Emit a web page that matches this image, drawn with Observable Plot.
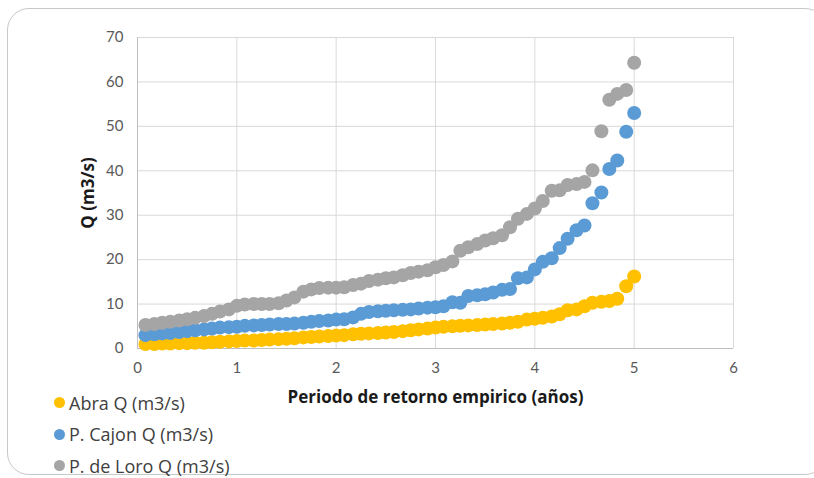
<!DOCTYPE html>
<html>
<head>
<meta charset="utf-8">
<script src="https://cdn.jsdelivr.net/npm/d3@7"></script>
<script src="https://cdn.jsdelivr.net/npm/@observablehq/plot@0.6"></script>
<style>
  html, body { margin: 0; padding: 0; background: #fff; }
  #chart { position: relative; width: 814px; height: 478px; overflow: hidden; font-family: "Open Sans", Lato, sans-serif; }
  #frame { position: absolute; left: 7px; top: 8px; width: 820px; height: 467px; border: 1.5px solid #c8c8c8; border-radius: 22px; box-sizing: border-box; }
  #plot { position: absolute; left: 0; top: 0; }
  #legend { position: absolute; left: 54px; top: 387px; font-size: 18px; color: #404040; }
  #legend .item { display: flex; align-items: center; height: 31.5px; }
  #legend .sw { width: 11px; height: 11px; border-radius: 50%; margin-right: 4px; }
</style>
</head>
<body>
<div id="chart">
  <div id="frame"></div>
  <div id="plot"></div>
  <div id="legend"></div>
</div>
<script>
// Empirical return period (years) of each ranked flow
const periods = [
  0.08, 0.17, 0.25, 0.33, 0.42, 0.50, 0.58, 0.67, 0.75, 0.83,
  0.92, 1.00, 1.08, 1.17, 1.25, 1.33, 1.42, 1.50, 1.58, 1.67,
  1.75, 1.83, 1.92, 2.00, 2.08, 2.17, 2.25, 2.33, 2.42, 2.50,
  2.58, 2.67, 2.75, 2.83, 2.92, 3.00, 3.08, 3.17, 3.25, 3.33,
  3.42, 3.50, 3.58, 3.67, 3.75, 3.83, 3.92, 4.00, 4.08, 4.17,
  4.25, 4.33, 4.42, 4.50, 4.58, 4.67, 4.75, 4.83, 4.92, 5.00
];

// Flows Q (m3/s) per station
const abra = [
  1.0, 1.0, 1.1, 1.1, 1.2, 1.2, 1.3, 1.3, 1.4, 1.5,
  1.6, 1.7, 1.8, 1.8, 1.9, 2.0, 2.1, 2.2, 2.3, 2.5,
  2.6, 2.7, 2.8, 2.9, 3.0, 3.2, 3.3, 3.4, 3.5, 3.6,
  3.7, 3.9, 4.1, 4.3, 4.5, 4.7, 4.9, 5.0, 5.1, 5.2,
  5.3, 5.4, 5.5, 5.6, 5.8, 6.0, 6.5, 6.7, 6.9, 7.2,
  7.7, 8.6, 8.8, 9.5, 10.3, 10.5, 10.7, 11.2, 14.0, 16.2
];
const cajon = [
  3.0, 3.2, 3.4, 3.5, 3.7, 3.9, 4.1, 4.3, 4.5, 4.7,
  4.8, 4.9, 5.1, 5.2, 5.3, 5.4, 5.5, 5.5, 5.6, 5.8,
  6.0, 6.2, 6.3, 6.5, 6.6, 7.0, 7.8, 8.2, 8.4, 8.5,
  8.6, 8.7, 8.8, 9.0, 9.2, 9.3, 9.5, 10.4, 10.3, 11.8,
  12.0, 12.2, 12.6, 13.2, 13.4, 15.8, 16.0, 17.8, 19.5, 20.3,
  22.6, 24.7, 26.6, 27.7, 32.7, 35.1, 40.4, 42.3, 48.8, 53.0
];
const loro = [
  5.3, 5.5, 5.8, 6.0, 6.3, 6.6, 6.9, 7.3, 7.8, 8.3,
  8.8, 9.6, 9.9, 10.0, 10.0, 10.0, 10.2, 10.8, 11.5, 12.8,
  13.3, 13.6, 13.7, 13.7, 13.8, 14.3, 14.6, 15.2, 15.5, 15.8,
  16.0, 16.5, 17.0, 17.3, 17.6, 18.3, 18.8, 19.6, 22.0, 22.8,
  23.5, 24.3, 24.8, 25.5, 27.3, 29.2, 30.3, 31.5, 33.2, 35.5,
  35.6, 36.8, 37.0, 37.5, 40.1, 48.9, 56.0, 57.3, 58.2, 64.3
];

const seriesNames = ["Abra Q (m3/s)", "P. Cajon Q (m3/s)", "P. de Loro Q (m3/s)"];
const seriesColors = ["#FFC000", "#5B9BD5", "#A5A5A5"];
const seriesValues = [abra, cajon, loro];

const xTicks = [0, 1, 2, 3, 4, 5, 6];
const yTicks = [0, 10, 20, 30, 40, 50, 60, 70];

const rows = seriesNames.flatMap((name, s) =>
  periods.map((t, i) => ({series: name, period: t, q: seriesValues[s][i]}))
);

const titleStyle = {fontFamily: "'Open Sans', sans-serif", fontWeight: "bold", fontSize: 17, fill: "#1a1a1a", textAnchor: "middle", lineAnchor: "middle"};

const chart = Plot.plot({
  width: 814,
  height: 478,
  marginLeft: 137,
  marginRight: 81,
  marginTop: 37,
  marginBottom: 130,
  style: {fontFamily: "Lato, 'Open Sans', sans-serif", fontSize: "15px", color: "#595959", background: "transparent"},
  x: {domain: [0, 6], ticks: xTicks, tickSize: 0, tickPadding: 13, label: null},
  y: {domain: [0, 70], ticks: yTicks, tickSize: 0, tickPadding: 14, label: null},
  color: {domain: seriesNames, range: seriesColors},
  marks: [
    Plot.gridX(xTicks, {stroke: "#d9d9d9", strokeOpacity: 1}),
    Plot.gridY(yTicks, {stroke: "#d9d9d9", strokeOpacity: 1}),
    Plot.ruleX([0], {stroke: "#bfbfbf"}),
    Plot.ruleY([0], {stroke: "#bfbfbf"}),
    Plot.axisX(xTicks, {tickSize: 0, tickPadding: 14, label: null, fill: "#595959"}),
    Plot.axisY(yTicks, {tickSize: 0, tickPadding: 14, label: null, fill: "#595959"}),
    Plot.dot(rows, {x: "period", y: "q", fill: "series", r: 7, stroke: "none"}),
    Plot.text(["Periodo de retorno empirico (años)"], {frameAnchor: "bottom", dy: 49, ...titleStyle}),
    Plot.text(["Q (m3/s)"], {frameAnchor: "left", dx: -49, rotate: -90, ...titleStyle})
  ]
});
document.getElementById("plot").appendChild(chart);

const legend = d3.select("#legend");
seriesNames.forEach((name, i) => {
  const item = legend.append("div").attr("class", "item");
  item.append("div").attr("class", "sw").style("background", seriesColors[i]);
  item.append("span").text(name);
});
</script>
</body>
</html>
